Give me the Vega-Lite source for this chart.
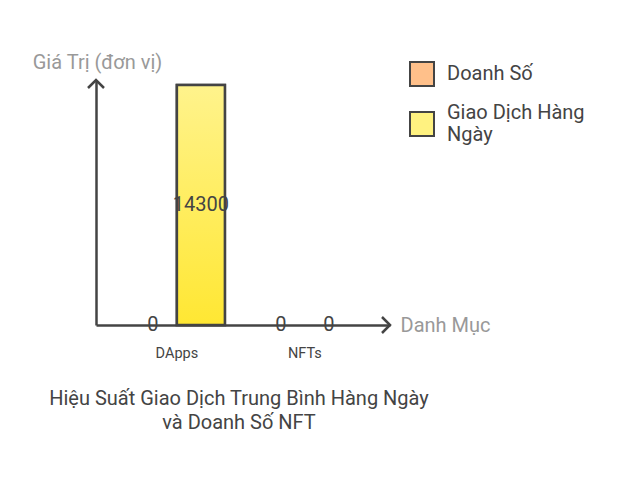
{
  "$schema": "https://vega.github.io/schema/vega-lite/v6.json",
  "width": 294,
  "height": 245,
  "autosize": "none",
  "padding": {"left": 96, "top": 80, "right": 236, "bottom": 158},
  "background": "white",
  "config": {"view": {"stroke": null}, "font": "Roboto"},
  "data": {
    "values": [
      {"danh_muc": "DApps", "series": "Doanh Số", "gia_tri": 0},
      {"danh_muc": "DApps", "series": "Giao Dịch Hàng Ngày", "gia_tri": 14300},
      {"danh_muc": "NFTs", "series": "Doanh Số", "gia_tri": 0},
      {"danh_muc": "NFTs", "series": "Giao Dịch Hàng Ngày", "gia_tri": 0}
    ]
  },
  "title": {
    "text": ["Hiệu Suất Giao Dịch Trung Bình Hàng Ngày", "và Doanh Số NFT"],
    "orient": "bottom",
    "anchor": "middle",
    "dx": -4,
    "offset": 29,
    "fontSize": 20,
    "fontWeight": "normal",
    "color": "#444444",
    "lineHeight": 24
  },
  "layer": [
    {
      "encoding": {
        "x": {
          "field": "danh_muc",
          "type": "nominal",
          "sort": null,
          "scale": {"paddingInner": 0.25, "paddingOuter": 0.273, "align": 0.47},
          "axis": {
            "domainColor": "#444444",
            "domainWidth": 2.5,
            "ticks": false,
            "labelAngle": 0,
            "labelPadding": 21,
            "labelFontSize": 14.5,
            "labelColor": "#444444",
            "title": "Danh Mục",
            "titleX": 304,
            "titleY": 0,
            "titleAlign": "left",
            "titleBaseline": "middle",
            "titleFontSize": 20,
            "titleFontWeight": "normal",
            "titleColor": "#999999"
          }
        },
        "xOffset": {
          "field": "series",
          "type": "nominal",
          "scale": {"paddingInner": 0, "paddingOuter": 0}
        }
      },
      "layer": [
        {
          "mark": {"type": "bar", "stroke": "#444444", "strokeWidth": 2.5},
          "encoding": {
            "y": {
              "field": "gia_tri",
              "type": "quantitative",
              "scale": {"domain": [0, 14600], "nice": false},
              "axis": {
                "domainColor": "#444444",
                "domainWidth": 2.5,
                "ticks": false,
                "labels": false,
                "grid": false,
                "title": "Giá Trị (đơn vị)",
                "titleAngle": 0,
                "titleX": 1,
                "titleY": -18,
                "titleAlign": "center",
                "titleBaseline": "middle",
                "titleFontSize": 20,
                "titleFontWeight": "normal",
                "titleColor": "#999999"
              }
            },
            "strokeOpacity": {
              "condition": {"test": "datum.gia_tri == 0", "value": 0},
              "value": 1
            },
            "fill": {
              "field": "series",
              "type": "nominal",
              "scale": {
                "domain": ["Doanh Số", "Giao Dịch Hàng Ngày"],
                "range": ["#FFC08A", "#FFF280"]
              },
              "legend": {
                "title": null,
                "orient": "none",
                "legendX": 313,
                "legendY": -19,
                "symbolType": "square",
                "symbolSize": 576,
                "symbolStrokeColor": "#444444",
                "symbolStrokeWidth": 2,
                "symbolOpacity": 1,
                "labelFontSize": 20,
                "labelLineHeight": 24,
                "labelColor": "#444444",
                "labelOffset": 12,
                "labelLimit": 300,
                "rowPadding": 13,
                "labelBaseline": {"expr": "datum.label == 'Giao Dịch Hàng Ngày' ? 'line-bottom' : 'middle'"},
                "labelExpr": "datum.label == 'Giao Dịch Hàng Ngày' ? ['Giao Dịch Hàng', 'Ngày'] : datum.label"
              }
            }
          }
        },
        {
          "transform": [{"filter": "datum.series == 'Giao Dịch Hàng Ngày' && datum.gia_tri > 0"}],
          "mark": {
            "type": "bar",
            "stroke": "#444444",
            "strokeWidth": 2.5,
            "fill": {
              "gradient": "linear",
              "x1": 0, "y1": 0, "x2": 0, "y2": 1,
              "stops": [
                {"offset": 0, "color": "#FFF38C"},
                {"offset": 1, "color": "#FFE733"}
              ]
            }
          },
          "encoding": {
            "y": {"field": "gia_tri", "type": "quantitative"}
          }
        },
        {
          "transform": [{"calculate": "datum.gia_tri / 2", "as": "giua"}],
          "mark": {"type": "text", "fontSize": 20, "color": "#444444", "baseline": "middle"},
          "encoding": {
            "y": {"field": "giua", "type": "quantitative"},
            "text": {"field": "gia_tri", "type": "quantitative"}
          }
        }
      ]
    },
    {
      "data": {"values": [{"tip": "y"}]},
      "mark": {
        "type": "point",
        "shape": "M-1,1L0,0L1,1",
        "size": 256,
        "filled": false,
        "opacity": 1,
        "stroke": "#444444",
        "strokeWidth": 2.5,
        "x": 0
      },
      "encoding": {"y": {"datum": 14600, "type": "quantitative"}}
    },
    {
      "data": {"values": [{"tip": "x"}]},
      "mark": {
        "type": "point",
        "shape": "M-1,-1L0,0L-1,1",
        "size": 256,
        "filled": false,
        "opacity": 1,
        "stroke": "#444444",
        "strokeWidth": 2.5,
        "x": "width"
      },
      "encoding": {"y": {"datum": 0, "type": "quantitative"}}
    }
  ]
}
